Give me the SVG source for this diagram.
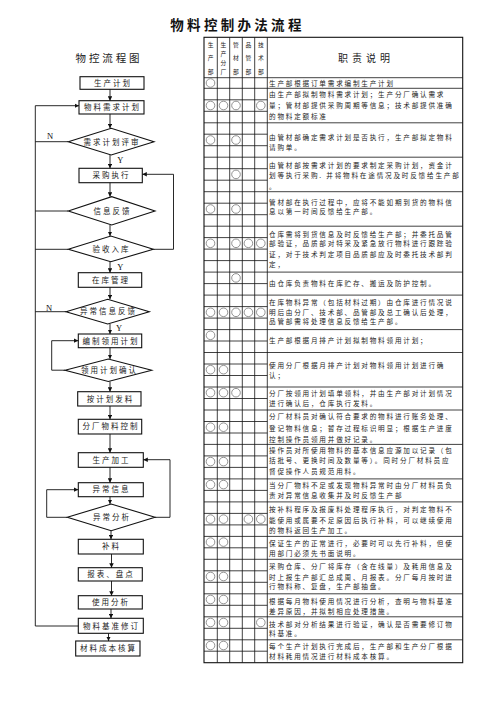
<svg xmlns="http://www.w3.org/2000/svg" width="496" height="702" viewBox="0 0 496 702">
<style>
.t{font-family:"Noto Sans CJK SC","Noto Sans CJK JP",sans-serif;fill:#222}
.title{font-size:13.5px;font-weight:bold;letter-spacing:3.3px;fill:#111}
.sub{font-size:10.5px;letter-spacing:2.9px}
.bx{font-size:7.5px;letter-spacing:2px;text-anchor:middle}
.d{font-size:6.6px;letter-spacing:1.8px}
.h{font-size:5.8px;text-anchor:middle}
.yn{font-family:"Liberation Serif",serif;font-size:8.5px;fill:#111}
.node rect,.node polygon{fill:#fff;stroke:#111;stroke-width:1.1}
.conn{fill:none;stroke:#111;stroke-width:0.9}
.grid{fill:none;stroke:#111;stroke-width:0.8}
.outer{fill:none;stroke:#111;stroke-width:1.1}
.c{fill:#fff;stroke:#777;stroke-width:0.8}
</style>
<defs>
<marker id="ar" viewBox="0 0 6 6" refX="6" refY="3" markerWidth="4.5" markerHeight="4.5" orient="auto" markerUnits="userSpaceOnUse"><path d="M0,0 L6,3 L0,6 Z" fill="#111"/></marker>
</defs>
<rect width="496" height="702" fill="#fff"/>
<text class="t title" x="237.5" y="29.5" text-anchor="middle">物料控制办法流程</text>
<text class="t sub" x="109" y="61.7" text-anchor="middle">物控流程图</text>

<!-- Flowchart nodes -->
<g id="n1" class="node"><rect x="80" y="76.7" width="64" height="12.6"/><text class="t bx" x="113" y="85.8">生产计划</text></g>
<g id="n2" class="node"><rect x="79" y="100.7" width="65" height="13.3"/><text class="t bx" x="112.5" y="110.2">物料需求计划</text></g>
<g id="n3" class="node"><polygon points="68.3,141.7 111.2,128.3 154,141.7 111.2,155"/><text class="t bx" x="112" y="144.5">需求计划评审</text></g>
<g id="n4" class="node"><rect x="79" y="168.3" width="63.3" height="14.4"/><text class="t bx" x="111.5" y="178.3">采购执行</text></g>
<g id="n5" class="node"><polygon points="68.3,211 111.7,196.7 155,211 111.7,225"/><text class="t bx" x="112.5" y="213.8">信息反馈</text></g>
<g id="n6" class="node"><polygon points="68.3,249.3 110.8,236 153.3,249.3 110.8,261.7"/><text class="t bx" x="111.5" y="252">验收入库</text></g>
<g id="n7" class="node"><rect x="78.3" y="272.7" width="63.4" height="14.6"/><text class="t bx" x="111" y="282.7">在库管理</text></g>
<g id="n8" class="node"><polygon points="66,311.7 107.7,299.3 149.3,311.7 107.7,324"/><text class="t bx" x="108.5" y="314.4">异常信息反馈</text></g>
<g id="n9" class="node"><rect x="78.3" y="334" width="63.4" height="13.7"/><text class="t bx" x="111" y="343.6">编制领用计划</text></g>
<g id="n10" class="node"><polygon points="65,370.2 108.3,359 151.7,370.2 108.3,381.5"/><text class="t bx" x="109.5" y="372.9">领用计划确认</text></g>
<g id="n11" class="node"><rect x="77.7" y="391.7" width="63.3" height="14.3"/><text class="t bx" x="110.5" y="401.5">按计划发料</text></g>
<g id="n12" class="node"><rect x="78.3" y="419.3" width="63.4" height="14.7"/><text class="t bx" x="111" y="429.3">分厂物料控制</text></g>
<g id="n13" class="node"><rect x="78.3" y="452.7" width="65" height="14.6"/><text class="t bx" x="111.5" y="462.7">生产加工</text></g>
<g id="n14" class="node"><rect x="78.3" y="482.7" width="65" height="14"/><text class="t bx" x="111.5" y="492.4">异常信息</text></g>
<g id="n15" class="node"><polygon points="67.3,517.3 111.2,504 155,517.3 111.2,530.7"/><text class="t bx" x="112" y="520.1">异常分析</text></g>
<g id="n16" class="node"><rect x="78.3" y="539.3" width="65" height="14.7"/><text class="t bx" x="111.5" y="549.3">补料</text></g>
<g id="n17" class="node"><rect x="78.3" y="567.7" width="64" height="13.3"/><text class="t bx" x="111" y="577.1">报表、盘点</text></g>
<g id="n18" class="node"><rect x="78.3" y="595.7" width="64" height="13.3"/><text class="t bx" x="111" y="605.1">使用分析</text></g>
<g id="n19" class="node"><rect x="78.3" y="618.3" width="65" height="15"/><text class="t bx" x="111.5" y="628.5">物料基准修订</text></g>
<g id="n20" class="node"><rect x="75.7" y="641" width="64.3" height="15"/><text class="t bx" x="108.5" y="651.2">材料成本核算</text></g>

<!-- Connectors -->
<g id="connectors" class="conn">
<path d="M110,89.3 V100.7" marker-end="url(#ar)"/>
<path d="M110,114 V128.3" marker-end="url(#ar)"/>
<path d="M110,155 V168.3" marker-end="url(#ar)"/>
<path d="M110,182.7 V196.7" marker-end="url(#ar)"/>
<path d="M110,225 V236" marker-end="url(#ar)"/>
<path d="M110,261.7 V272.7" marker-end="url(#ar)"/>
<path d="M110,287.3 V299.3" marker-end="url(#ar)"/>
<path d="M110,324 V334" marker-end="url(#ar)"/>
<path d="M110,347.7 V359" marker-end="url(#ar)"/>
<path d="M110,381.5 V391.7" marker-end="url(#ar)"/>
<path d="M110,406 V419.3" marker-end="url(#ar)"/>
<path d="M110,434 V452.7" marker-end="url(#ar)"/>
<path d="M110,467.3 V482.7" marker-end="url(#ar)"/>
<path d="M110,496.7 V504" marker-end="url(#ar)"/>
<path d="M111,530.7 V539.3" marker-end="url(#ar)"/>
<path d="M111.5,554 V567.7" marker-end="url(#ar)"/>
<path d="M111.5,581 V595.7" marker-end="url(#ar)"/>
<path d="M111,609 V618.3" marker-end="url(#ar)"/>
<path d="M108.5,633.3 V641" marker-end="url(#ar)"/>
<path d="M78.3,626 H35.3 V105.7 H79" marker-end="url(#ar)"/>
<path d="M68.3,141.7 H35.3"/>
<path d="M68.3,211 H35.3"/>
<path d="M68.3,249.3 H35.3"/>
<path d="M66,311.7 H35.3"/>
<path d="M153.3,249.3 H173.5 V174.3 H142.3" marker-end="url(#ar)"/>
<path d="M65,370.2 H51.7 V340.7 H78.3" marker-end="url(#ar)"/>
<path d="M155,517.3 H170 V459.7 H143.3" marker-end="url(#ar)"/>
<path d="M67.3,517.3 H46.7 V489.7 H78.3" marker-end="url(#ar)"/>
</g>
<g id="labels">
<text class="yn" x="47" y="139.3">N</text>
<text class="yn" x="117.3" y="162.7">Y</text>
<text class="yn" x="117.3" y="270">Y</text>
<text class="yn" x="46" y="311.3">N</text>
<text class="yn" x="116" y="330.7">Y</text>
</g>

<!-- Table -->
<g id="table">
<g class="grid">
<path d="M217.3,37.3 V662.7 M229.7,37.3 V662.7 M242.3,37.3 V662.7 M254.7,37.3 V662.7 M267.3,37.3 V662.7"/>
<path d="M204,77.7 H462.7"/>
<path d="M204,99.8 H267.3 M204,111.3 H267.3 M204,134.2 H267.3 M204,145.7 H267.3 M204,168.7 H267.3 M204,180.2 H267.3 M204,203.2 H267.3 M204,214.7 H267.3 M204,237.6 H267.3 M204,249.1 H267.3 M204,260.6 H267.3 M204,283.6 H267.3 M204,306.6 H267.3 M204,318.1 H267.3 M204,341 H267.3 M204,364 H267.3 M204,375.5 H267.3 M204,398.5 H267.3 M204,421.5 H267.3 M204,433 H267.3 M204,455.9 H267.3 M204,467.4 H267.3 M204,490.4 H267.3 M204,513.4 H267.3 M204,524.9 H267.3 M204,547.8 H267.3 M204,570.8 H267.3 M204,582.3 H267.3 M204,605.3 H267.3 M204,628.3 H267.3 M204,651.2 H267.3"/>
<path d="M204,88.3 H462.7 M204,122.8 H462.7 M204,157.2 H462.7 M204,191.7 H462.7 M204,226.2 H462.7 M204,272.1 H462.7 M204,295.1 H462.7 M204,329.6 H462.7 M204,352.5 H462.7 M204,387 H462.7 M204,410 H462.7 M204,444.4 H462.7 M204,478.9 H462.7 M204,501.9 H462.7 M204,536.4 H462.7 M204,559.3 H462.7 M204,593.8 H462.7 M204,616.8 H462.7 M204,639.8 H462.7"/>
</g>
<rect class="outer" x="204" y="37.3" width="258.7" height="625.4"/>
<g id="header">
<text class="t h" x="210.7"><tspan x="210.7" y="47">生</tspan><tspan x="210.7" y="60">产</tspan><tspan x="210.7" y="74">部</tspan></text>
<text class="t h" x="223.5"><tspan x="223.5" y="47">生</tspan><tspan x="223.5" y="56">产</tspan><tspan x="223.5" y="65">分</tspan><tspan x="223.5" y="74">厂</tspan></text>
<text class="t h" x="236"><tspan x="236" y="47">管</tspan><tspan x="236" y="60">材</tspan><tspan x="236" y="74">部</tspan></text>
<text class="t h" x="248.5"><tspan x="248.5" y="47">品</tspan><tspan x="248.5" y="60">管</tspan><tspan x="248.5" y="74">部</tspan></text>
<text class="t h" x="261"><tspan x="261" y="47">技</tspan><tspan x="261" y="60">术</tspan><tspan x="261" y="74">部</tspan></text>
<text class="t" x="366" y="61.5" text-anchor="middle" style="font-size:10px;letter-spacing:4px">职责说明</text>
</g>
<g id="circles">
<circle class="c" cx="210.5" cy="83" r="4.3"/>
<circle class="c" cx="210.5" cy="105.5" r="4.3"/><circle class="c" cx="223.5" cy="105.5" r="4.3"/><circle class="c" cx="236" cy="105.5" r="4.3"/><circle class="c" cx="260.8" cy="105.5" r="4.3"/>
<circle class="c" cx="210.5" cy="140" r="4.3"/><circle class="c" cx="236" cy="140" r="4.3"/>
<circle class="c" cx="236" cy="174.4" r="4.3"/>
<circle class="c" cx="210.5" cy="209" r="4.3"/><circle class="c" cx="236" cy="209" r="4.3"/>
<circle class="c" cx="210.5" cy="243.3" r="4.3"/><circle class="c" cx="236" cy="243.3" r="4.3"/><circle class="c" cx="248.4" cy="243.3" r="4.3"/><circle class="c" cx="260.8" cy="243.3" r="4.3"/>
<circle class="c" cx="236" cy="277.9" r="4.3"/>
<circle class="c" cx="210.5" cy="312.3" r="4.3"/><circle class="c" cx="223.5" cy="312.3" r="4.3"/><circle class="c" cx="236" cy="312.3" r="4.3"/><circle class="c" cx="248.4" cy="312.3" r="4.3"/><circle class="c" cx="260.8" cy="312.3" r="4.3"/>
<circle class="c" cx="210.5" cy="335.3" r="4.3"/>
<circle class="c" cx="210.5" cy="369.7" r="4.3"/><circle class="c" cx="223.5" cy="369.7" r="4.3"/>
<circle class="c" cx="210.5" cy="392.7" r="4.3"/><circle class="c" cx="223.5" cy="392.7" r="4.3"/><circle class="c" cx="236" cy="392.7" r="4.3"/>
<circle class="c" cx="210.5" cy="427.2" r="4.3"/><circle class="c" cx="223.5" cy="427.2" r="4.3"/>
<circle class="c" cx="210.5" cy="461.6" r="4.3"/><circle class="c" cx="223.5" cy="461.6" r="4.3"/>
<circle class="c" cx="210.5" cy="484.6" r="4.3"/><circle class="c" cx="223.5" cy="484.6" r="4.3"/>
<circle class="c" cx="210.5" cy="519.1" r="4.3"/><circle class="c" cx="223.5" cy="519.1" r="4.3"/><circle class="c" cx="248.4" cy="519.1" r="4.3"/><circle class="c" cx="260.8" cy="519.1" r="4.3"/>
<circle class="c" cx="210.5" cy="542.1" r="4.3"/><circle class="c" cx="223.5" cy="542.1" r="4.3"/>
<circle class="c" cx="210.5" cy="576.5" r="4.3"/><circle class="c" cx="223.5" cy="576.5" r="4.3"/>
<circle class="c" cx="210.5" cy="599.5" r="4.3"/><circle class="c" cx="223.5" cy="599.5" r="4.3"/>
<circle class="c" cx="210.5" cy="622.5" r="4.3"/><circle class="c" cx="223.5" cy="622.5" r="4.3"/><circle class="c" cx="260.8" cy="622.5" r="4.3"/>
<circle class="c" cx="210.5" cy="645.5" r="4.3"/><circle class="c" cx="223.5" cy="645.5" r="4.3"/>
</g>
<g id="desc" class="t d">
<text x="269" y="85.5">生产部根据订单需求编制生产计划</text>
<text x="269" y="96.8">由生产部拟制物料需求计划；生产分厂确认需求</text>
<text x="269" y="107.8">量；管材部提供采购周期等信息；技术部提供准确</text>
<text x="269" y="118.8">的物料定额标准</text>
<text x="269" y="140">由管材部确定需求计划是否执行，生产部拟定物料</text>
<text x="269" y="149.8">请购单。</text>
<text x="269" y="167.5">由管材部按需求计划的要求制定采购计划，资金计</text>
<text x="269" y="178">划等执行采购. 并将物料在途情况及时反馈给生产部</text>
<text x="269" y="188.7">。</text>
<text x="269" y="204.6">管材部在执行过程中，应将不能如期到货的物料信</text>
<text x="269" y="214.4">息以第一时间反馈给生产部。</text>
<text x="269" y="236.5">仓库需将到货信息及时反馈给生产部；并委托品管</text>
<text x="269" y="246.3">部验证，品质部对特采及紧急放行物料进行跟踪验</text>
<text x="269" y="256.6">证，对于技术判定项目品质部应及时委托技术部判</text>
<text x="269" y="267">定，</text>
<text x="269" y="285.8">由仓库负责物料在库贮存、搬运及防护控制。</text>
<text x="269" y="304.6">在库物料异常（包括材料过期）由仓库进行情况说</text>
<text x="269" y="314.6">明后由分厂、技术部、品管部及总工确认后处理，</text>
<text x="269" y="324.4">品管部需将处理信息反馈给生产部。</text>
<text x="269" y="343.2">生产部根据月排产计划拟制物料领用计划；</text>
<text x="269" y="368.3">使用分厂根据月排产计划对物料领用计划进行确</text>
<text x="269" y="377.8">认；</text>
<text x="269" y="395.8">分厂按领用计划填单领料，并由生产部对计划情况</text>
<text x="269" y="405.8">进行确认后，仓库执行发料。</text>
<text x="269" y="419.2">分厂材料员对确认符合要求的物料进行账务处理、</text>
<text x="269" y="430.8">登记物料信息；暂存过程标识明显；根据生产进度</text>
<text x="269" y="441.8">控制操作员领用并做好记录。</text>
<text x="269" y="453">操作员对所使用物料的基本信息应源加以记录（包</text>
<text x="269" y="462.7">括批号、更换时间及数量等）。同时分厂材料员应</text>
<text x="269" y="473.5">督促操作人员规范用料。</text>
<text x="269" y="488">当分厂物料不足或发现物料异常时由分厂材料员负</text>
<text x="269" y="497.7">责对异常信息收集并及时反馈生产部</text>
<text x="269" y="511.8">按补料程序及报废料处理程序执行，对判定物料不</text>
<text x="269" y="522.5">能使用或属要不足原因后执行补料，可以继续使用</text>
<text x="269" y="533.2">的物料返回生产加工。</text>
<text x="269" y="545.8">保证生产的正常进行，必要时可以先行补料，但使</text>
<text x="269" y="555.8">用部门必须先书面说明。</text>
<text x="269" y="569.2">采购仓库、分厂将库存（含在线量）及耗用信息及</text>
<text x="269" y="579.6">时上报生产部汇总成周、月报表。分厂每月按时进</text>
<text x="269" y="589.4">行物料称、复盘，生产部抽盘。</text>
<text x="269" y="604.2">根据每月物料使用情况进行分析，查明与物料基准</text>
<text x="269" y="614.2">差异原因，并拟制相应处理措施。</text>
<text x="269" y="626.6">技术部对分析结果进行验证，确认是否需要修订物</text>
<text x="269" y="636.2">料基准。</text>
<text x="269" y="649.2">每个生产计划执行完成后，生产部和生产分厂根据</text>
<text x="269" y="659.2">材料耗用情况进行材料成本核算。</text>
</g>
</g>
</svg>
